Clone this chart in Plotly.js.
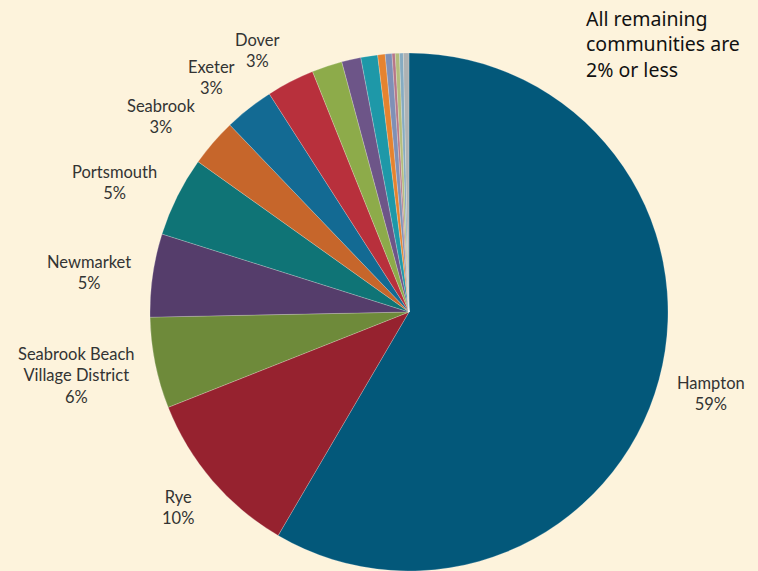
<!DOCTYPE html>
<html>
<head>
<meta charset="utf-8">
<script src="https://cdn.plot.ly/plotly-3.0.1.min.js"></script>
<style>
html,body{margin:0;padding:0;background:#fdf3dc;}
#chart{width:758px;height:571px;}
</style>
</head>
<body>
<div id="chart"></div>
<script>
// Data (percent shares, clockwise from 12 o'clock)
const communities = [
  "Hampton", "Rye", "Seabrook Beach Village District", "Newmarket", "Portsmouth",
  "Seabrook", "Exeter", "Dover",
  "Other 1", "Other 2", "Other 3", "Other 4", "Other 5", "Other 6", "Other 7", "Other 8", "Other 9"
];
const shares = [58.6, 10.6, 5.7, 5.2, 5.0, 3.0, 3.1, 3.0, 1.9, 1.2, 1.05, 0.47, 0.42, 0.2, 0.26, 0.24, 0.35];
const sliceColors = [
  "#03587a", "#96222f", "#6e8a3a", "#553d6b", "#0f7476",
  "#c6662b", "#136a93", "#b8303c",
  "#8dab4a", "#6d5588", "#1e98a8", "#e5832f", "#7f90b6", "#b67788", "#b3bd7c", "#86abc1", "#aeb2b3"
];
// Labels shown on the chart
const labelTexts = [
  "Hampton<br>59%", "Rye<br>10%", "Seabrook Beach<br>Village District<br>6%", "Newmarket<br>5%",
  "Portsmouth<br>5%", "Seabrook<br>3%", "Exeter<br>3%", "Dover<br>3%"
];
const noteText = "All remaining<br>communities are<br>2% or less";

// label anchor positions in pixels (center x, top y)
const labelPos = [
  [711, 371], [178, 485], [76, 342], [89, 250], [114, 160], [161, 94], [211, 55], [257, 28]
];

const W = 758, H = 571;
const annotations = labelTexts.map((t, i) => ({
  text: t,
  xref: "paper", yref: "paper",
  x: labelPos[i][0] / W, y: 1 - labelPos[i][1] / H,
  xanchor: "center", yanchor: "top",
  showarrow: false, align: "center",
  font: {family: "Lato, 'Open Sans', sans-serif", size: 16.5, color: "#333333"}
}));
annotations.push({
  text: noteText,
  xref: "paper", yref: "paper",
  x: 584 / W, y: 1 - 3 / H,
  xanchor: "left", yanchor: "top",
  showarrow: false, align: "left",
  font: {family: "'Noto Sans', sans-serif", size: 19.5, color: "#111111"}
});

const trace = {
  type: "pie",
  labels: communities,
  values: shares,
  sort: false,
  direction: "clockwise",
  rotation: 0,
  textinfo: "none",
  hoverinfo: "label+percent",
  marker: {colors: sliceColors, line: {color: "rgba(255,255,255,0.35)", width: 0.6}},
  domain: {x: [149 / W, 669 / W], y: [0, 1 - 53 / H]},
  showlegend: false
};

const layout = {
  width: W, height: H,
  margin: {l: 0, r: 0, t: 0, b: 0},
  paper_bgcolor: "#fdf3dc",
  plot_bgcolor: "#fdf3dc",
  showlegend: false,
  annotations: annotations
};

Plotly.newPlot("chart", [trace], layout, {displayModeBar: false, staticPlot: true});
</script>
</body>
</html>
